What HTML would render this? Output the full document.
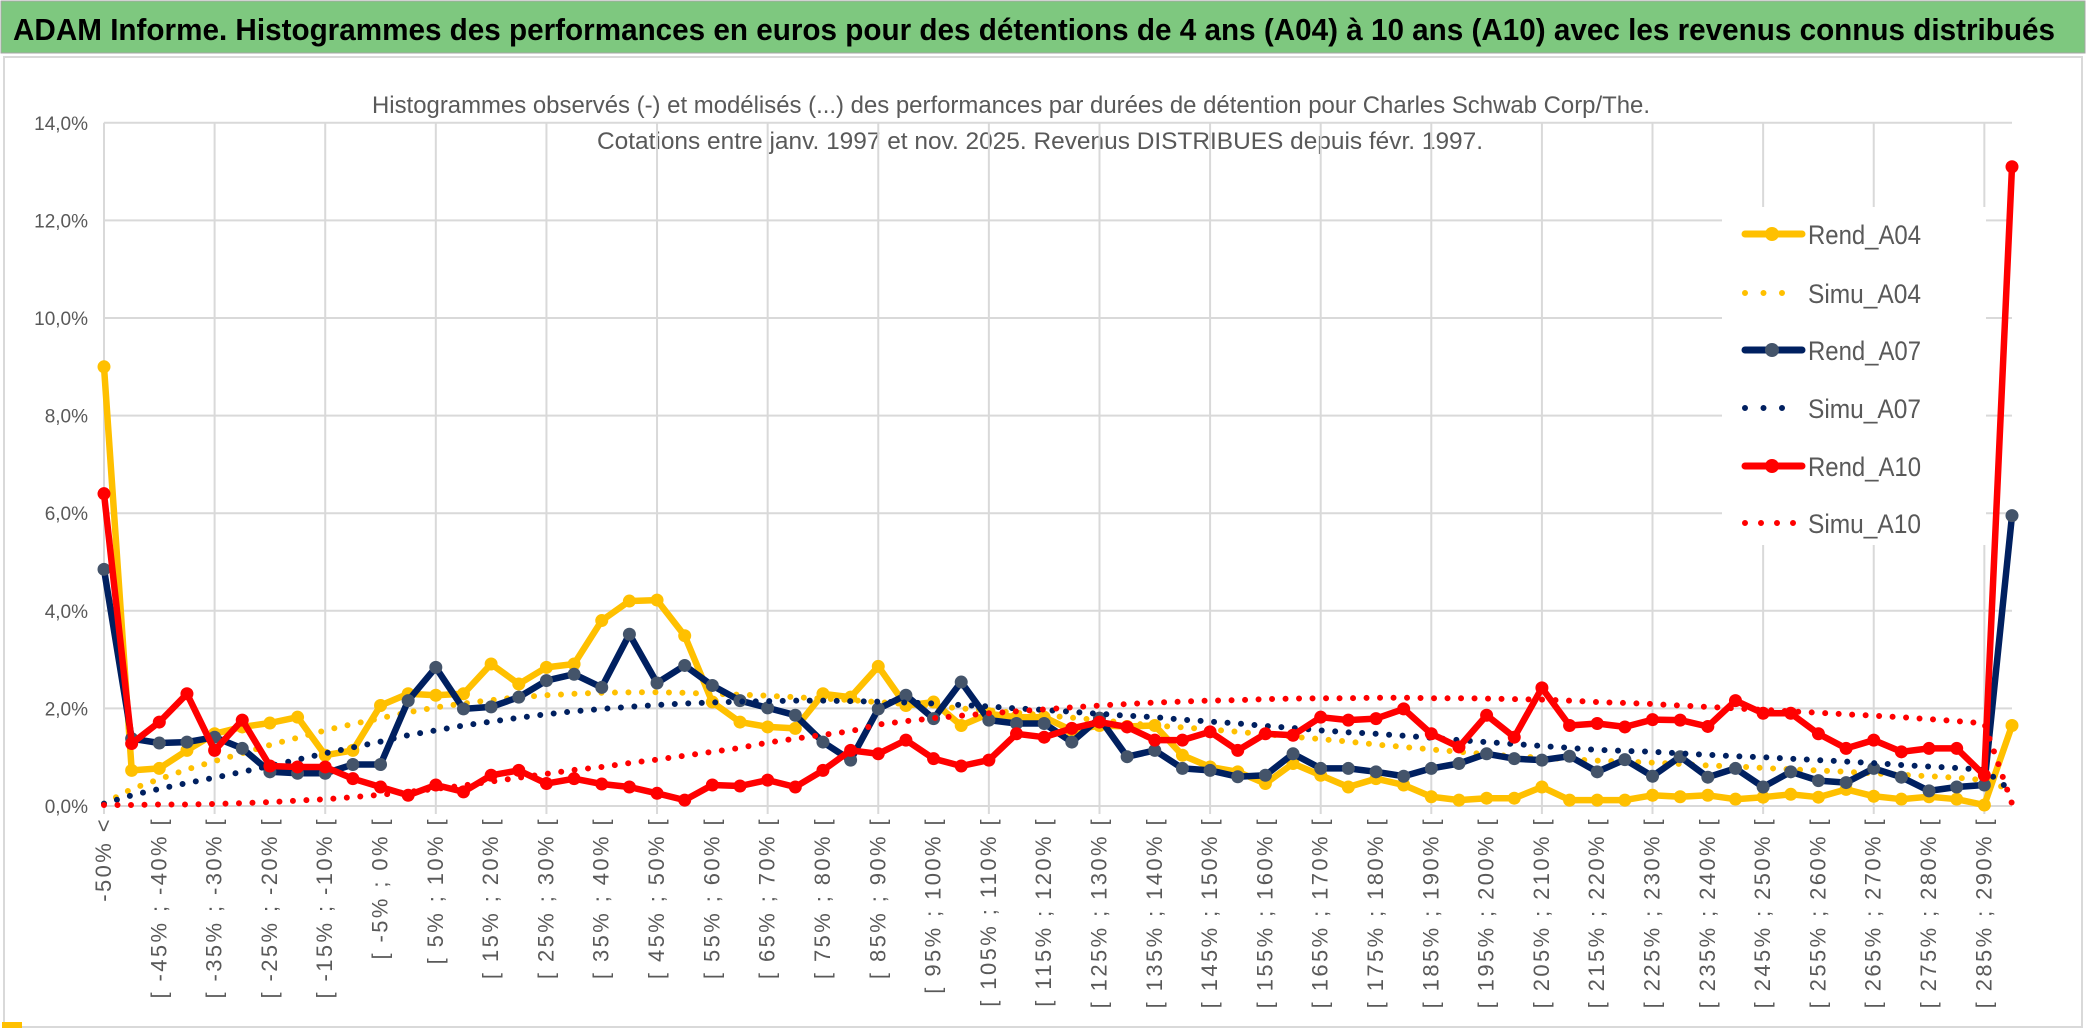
<!DOCTYPE html>
<html><head><meta charset="utf-8"><style>
html,body{margin:0;padding:0;background:#fff;}
svg{display:block;}
text{font-family:"Liberation Sans",sans-serif;}
</style></head><body>
<svg id="chart" width="2086" height="1033" viewBox="0 0 2086 1033" xmlns="http://www.w3.org/2000/svg">
<rect x="0" y="0" width="2086" height="1033" fill="#fff"/>
<rect x="1" y="1" width="2084" height="52" fill="#7ec87f" stroke="#a6a6a6" stroke-width="1"/>
<text x="13" y="40" font-size="31" font-weight="bold" fill="#000" textLength="2042" lengthAdjust="spacingAndGlyphs">ADAM Informe. Histogrammes des performances en euros pour des détentions de 4 ans (A04) à 10 ans (A10) avec les revenus connus distribués</text>
<rect x="4" y="57" width="2078" height="970" fill="#fff" stroke="#d9d9d9" stroke-width="2"/>
<text x="372" y="113" font-size="24" fill="#595959" textLength="1278" lengthAdjust="spacingAndGlyphs">Histogrammes observés (-) et modélisés (...) des performances par durées de détention pour Charles Schwab Corp/The.</text>
<text x="597" y="149" font-size="24" fill="#595959" textLength="886" lengthAdjust="spacingAndGlyphs">Cotations entre janv. 1997 et nov. 2025. Revenus DISTRIBUES depuis févr. 1997.</text>
<g id="grid"></g>
<g id="ylabels"></g>
<g id="xlabels"></g>
<g id="legendbg"></g>
<g id="series"></g>
<g id="legend"></g>
<rect x="2" y="1022" width="20" height="6" fill="#ffc000"/>
</svg>
<script>
const categories = ["-50% <"];
for (let k = 1; k <= 68; k++) { const lo = -50 + 5*(k-1); categories.push("[ " + lo + "% ; " + (lo+5) + "% ["); }
categories.push("290% >");
const yTicks = [0,2,4,6,8,10,12,14];
const yTickLabels = ["0,0%","2,0%","4,0%","6,0%","8,0%","10,0%","12,0%","14,0%"];
const rendA04 = [9.0,0.73,0.77,1.14,1.48,1.62,1.70,1.82,1.04,1.14,2.06,2.30,2.27,2.30,2.91,2.50,2.84,2.91,3.80,4.20,4.22,3.49,2.13,1.72,1.62,1.59,2.30,2.23,2.86,2.06,2.13,1.65,1.89,1.82,1.82,1.55,1.65,1.63,1.65,1.04,0.80,0.70,0.46,0.87,0.63,0.39,0.56,0.43,0.19,0.12,0.16,0.16,0.39,0.12,0.12,0.12,0.22,0.19,0.22,0.14,0.18,0.24,0.18,0.34,0.20,0.14,0.19,0.14,0.02,1.65];
const simuA04 = [0.05,0.35,0.55,0.75,0.92,1.08,1.25,1.40,1.55,1.68,1.80,1.92,2.02,2.10,2.17,2.23,2.27,2.30,2.32,2.33,2.33,2.32,2.30,2.28,2.26,2.23,2.20,2.17,2.13,2.09,2.05,2.00,1.96,1.91,1.86,1.81,1.76,1.70,1.65,1.61,1.57,1.52,1.47,1.42,1.37,1.32,1.26,1.21,1.16,1.11,1.06,1.02,0.99,0.96,0.93,0.91,0.89,0.86,0.83,0.81,0.78,0.75,0.73,0.70,0.67,0.64,0.61,0.58,0.53,0.32];
const rendA07 = [4.85,1.38,1.29,1.31,1.41,1.18,0.70,0.67,0.67,0.85,0.85,2.16,2.84,1.99,2.03,2.23,2.57,2.70,2.43,3.52,2.52,2.88,2.47,2.16,2.01,1.86,1.31,0.94,1.99,2.27,1.79,2.54,1.76,1.69,1.69,1.31,1.80,1.01,1.14,0.77,0.73,0.60,0.63,1.07,0.77,0.77,0.70,0.61,0.77,0.87,1.07,0.97,0.94,1.02,0.70,0.95,0.61,1.01,0.59,0.77,0.39,0.70,0.52,0.48,0.77,0.59,0.31,0.39,0.43,5.95];
const simuA07 = [0.05,0.22,0.35,0.47,0.58,0.70,0.82,0.95,1.08,1.20,1.32,1.45,1.55,1.65,1.73,1.81,1.88,1.94,1.99,2.03,2.07,2.10,2.12,2.14,2.15,2.16,2.16,2.15,2.14,2.12,2.10,2.07,2.04,2.00,1.97,1.93,1.89,1.85,1.82,1.77,1.73,1.69,1.64,1.60,1.55,1.51,1.48,1.44,1.40,1.35,1.31,1.27,1.23,1.19,1.15,1.13,1.11,1.08,1.05,1.02,1.00,0.97,0.94,0.91,0.88,0.84,0.81,0.78,0.74,0.30];
const rendA10 = [6.4,1.28,1.72,2.30,1.14,1.76,0.82,0.80,0.80,0.56,0.39,0.22,0.43,0.29,0.63,0.73,0.46,0.56,0.45,0.39,0.26,0.12,0.43,0.41,0.53,0.39,0.73,1.14,1.07,1.35,0.97,0.82,0.94,1.48,1.41,1.59,1.72,1.62,1.35,1.35,1.52,1.14,1.48,1.45,1.82,1.76,1.79,1.99,1.48,1.21,1.86,1.41,2.42,1.65,1.69,1.62,1.77,1.76,1.63,2.16,1.90,1.90,1.48,1.18,1.35,1.11,1.18,1.18,0.63,13.1];
const simuA10 = [0.02,0.02,0.03,0.03,0.04,0.06,0.08,0.11,0.14,0.18,0.23,0.29,0.35,0.42,0.50,0.58,0.66,0.74,0.80,0.88,0.95,1.03,1.11,1.19,1.30,1.38,1.46,1.53,1.67,1.74,1.80,1.85,1.90,1.94,1.98,2.02,2.06,2.09,2.12,2.14,2.16,2.17,2.19,2.20,2.21,2.21,2.22,2.22,2.21,2.21,2.20,2.19,2.18,2.16,2.13,2.11,2.09,2.06,2.03,2.00,1.97,1.94,1.91,1.88,1.85,1.82,1.78,1.74,1.69,0.05];

const NS = "http://www.w3.org/2000/svg";
const X0 = 104, X1 = 2012, Y0 = 806, PPU = 48.8;
function xScale(i){ return X0 + (X1 - X0) * i / (categories.length - 1); }
function yScale(v){ return Y0 - v * PPU; }
function mk(tag, attrs, parent){ const e = document.createElementNS(NS, tag); for (const k in attrs) e.setAttribute(k, attrs[k]); parent.appendChild(e); return e; }

const grid = document.getElementById('grid');
yTicks.forEach((t, j) => {
  const l = mk('line', {x1: X0, x2: X1, y1: yScale(t), y2: yScale(t), stroke: '#d9d9d9', 'stroke-width': 2}, grid);
  
  
  const tx = mk('text', {x: 88, y: yScale(t) + 7, 'font-size': 19, fill: '#595959', 'text-anchor': 'end'}, document.getElementById('ylabels'));
  tx.textContent = yTickLabels[j];
  
  
});
for (let i = 0; i < categories.length; i += 4) {
  const l = mk('line', {x1: xScale(i), x2: xScale(i), y1: yScale(14), y2: Y0 + 8, stroke: '#d9d9d9', 'stroke-width': 2}, grid);
  
  
}
const xl = document.getElementById('xlabels');
categories.forEach((c, i) => {
  if (i % 2 !== 0) return;
  const x = xScale(i) + 7, y = 817;
  const t = mk('text', {x: x, y: y, 'font-size': 22, fill: '#595959', 'text-anchor': 'end', 'letter-spacing': 2.4, transform: 'rotate(-90 ' + x + ' ' + y + ')'}, xl);
  t.textContent = c;
  
  
});

const lb = mk('rect', {x: 1722, y: 207, width: 264, height: 338, fill: '#fff'}, document.getElementById('legendbg'));



const seriesDefs = [
  {name: 'Rend_A04', data: rendA04, color: '#ffc000', marker: '#ffc000', dotted: false},
  {name: 'Simu_A04', data: simuA04, color: '#ffc000', dotted: true},
  {name: 'Rend_A07', data: rendA07, color: '#002060', marker: '#44546a', dotted: false},
  {name: 'Simu_A07', data: simuA07, color: '#002060', dotted: true},
  {name: 'Rend_A10', data: rendA10, color: '#ff0000', marker: '#ff0000', dotted: false},
  {name: 'Simu_A10', data: simuA10, color: '#ff0000', dotted: true}
];
const sg = document.getElementById('series');
const lg = document.getElementById('legend');
const legendY = [234, 293, 350, 408, 466, 523];
seriesDefs.forEach((s, k) => {
  const g = mk('g', {}, sg);
  
  
  const pts = s.data.map((v, i) => xScale(i).toFixed(1) + ',' + yScale(v).toFixed(1)).join(' ');
  const line = mk('polyline', {points: pts, fill: 'none', stroke: s.color, 'stroke-width': s.dotted ? 6 : 6.5, 'stroke-linejoin': 'round', 'stroke-linecap': 'round'}, g);
  if (s.dotted) line.setAttribute('stroke-dasharray', '0 13.5');
  
  
  if (!s.dotted) {
    s.data.forEach((v, i) => {
      const c = mk('circle', {cx: xScale(i), cy: yScale(v), r: 6.5, fill: s.marker}, g);
      
      
    });
  }
  const ly = legendY[k];
  const le = mk('g', {}, lg);
  
  
  const ll = mk('line', {x1: 1745, x2: s.dotted ? 1800 : 1802, y1: ly, y2: ly, stroke: s.color, 'stroke-width': s.dotted ? 6 : 7, 'stroke-linecap': 'round'}, le);
  if (s.dotted) ll.setAttribute('stroke-dasharray', k === 5 ? '0 16' : '0 18.5');
  if (!s.dotted) mk('circle', {cx: 1772, cy: ly, r: 7, fill: s.marker}, le);
  const t = mk('text', {x: 1808, y: ly + 10, 'font-size': 27, fill: '#595959', textLength: 113, lengthAdjust: 'spacingAndGlyphs'}, le);
  t.textContent = s.name;
});
</script>
</body></html>
